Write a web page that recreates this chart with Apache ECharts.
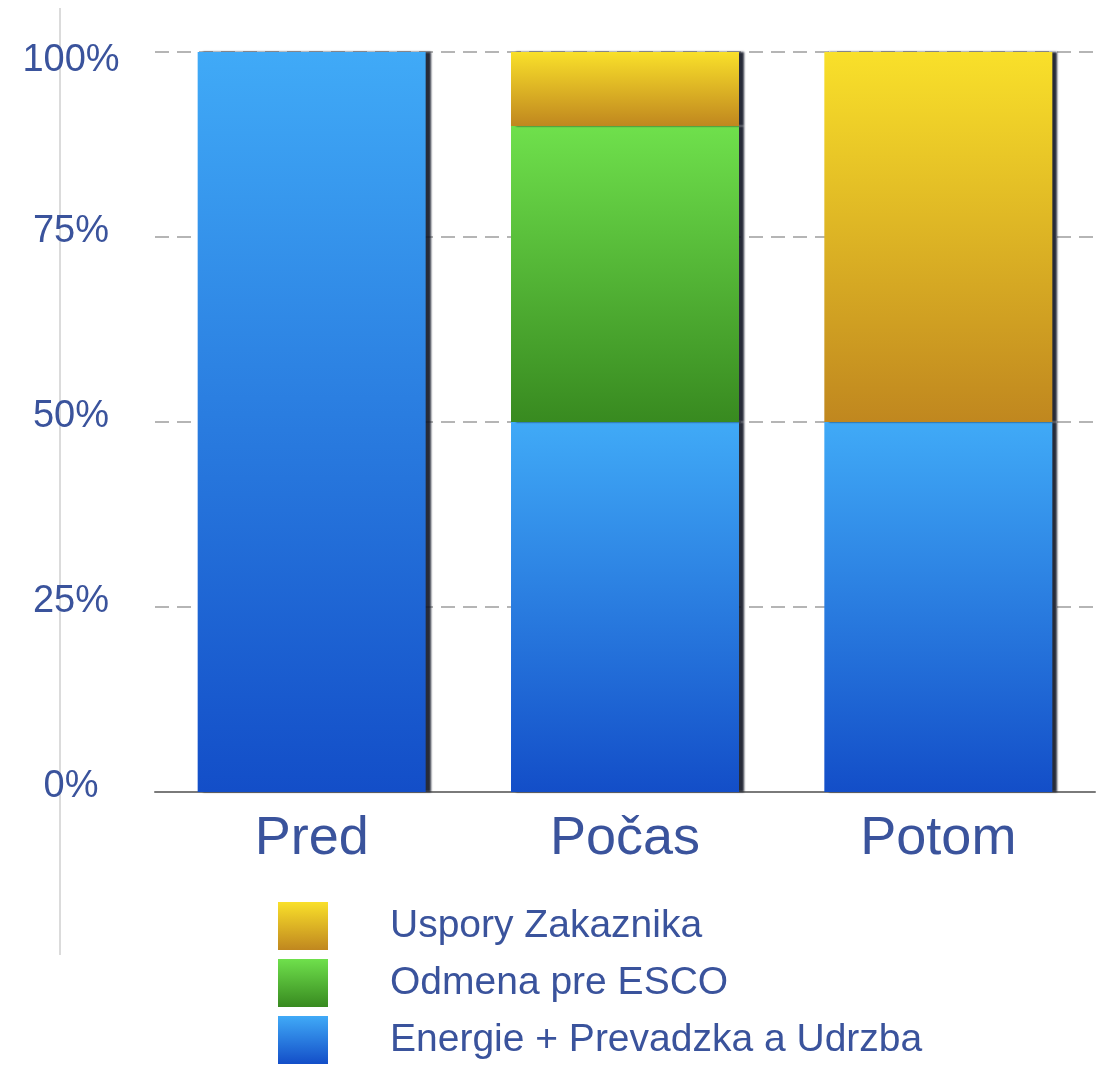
<!DOCTYPE html>
<html>
<head>
<meta charset="utf-8">
<script src="https://cdn.jsdelivr.net/npm/echarts@6/dist/echarts.min.js"></script>
<style>
  html, body { margin: 0; padding: 0; background: #fff; }
  #chart { width: 1111px; height: 1068px; }
</style>
</head>
<body>
<div id="chart"></div>
<script>
// kategorie a hodnoty (percentá)
const categories = ["Pred", "Počas", "Potom"];
const energie = [100, 50, 50];
const odmena = [0, 40, 0];
const uspory = [0, 10, 50];
const yTicks = [0, 25, 50, 75, 100];

const textBlue = "#3a539c";
const font = "Liberation Sans, Arial, sans-serif";

// vertikálny gradient pre segment
function grad(top, bottom) {
  return new echarts.graphic.LinearGradient(0, 0, 0, 1, [
    { offset: 0, color: top },
    { offset: 1, color: bottom },
  ]);
}

// nulové segmenty nekreslíme (inak by bol vidieť tieň)
function seg(arr) {
  return arr.map(function (v) {
    return v === 0 ? "-" : v;
  });
}

const barShadow = {
  shadowColor: "rgba(15,20,35,0.9)",
  shadowOffsetX: 5,
  shadowOffsetY: 0,
  shadowBlur: 2,
};

const labelStyle = { color: textBlue, fontSize: 38, fontFamily: font };

const chart = echarts.init(document.getElementById("chart"));

const option = {
  backgroundColor: "#ffffff",
  animation: false,
  grid: { left: 155, right: 16, top: 52, bottom: 276 },
  graphic: [
    {
      type: "line",
      shape: { x1: 60, y1: 8, x2: 60, y2: 955 },
      style: { stroke: "#cfcfcf", lineWidth: 1.5 },
      silent: true,
    },
  ],
  legend: {
    orient: "vertical",
    left: 278,
    top: 902,
    padding: 0,
    height: 166,
    itemWidth: 50,
    itemHeight: 48,
    itemGap: 9,
    icon: "rect",
    data: ["Uspory Zakaznika", "Odmena pre ESCO", "Energie + Prevadzka a Udrzba"],
    itemStyle: { shadowBlur: 0, shadowOffsetX: 0, shadowColor: "transparent" },
    textStyle: {
      color: textBlue,
      fontSize: 39,
      fontFamily: font,
      padding: [8, 0, 0, 57],
    },
  },
  xAxis: {
    type: "category",
    data: categories,
    axisTick: { show: false },
    axisLine: { show: true, lineStyle: { color: "#7a7a7a", width: 2 } },
    axisLabel: {
      color: textBlue,
      fontSize: 54,
      fontFamily: font,
      margin: 20,
    },
  },
  yAxis: {
    type: "value",
    min: yTicks[0],
    max: yTicks[yTicks.length - 1],
    interval: 25,
    axisLine: { show: false },
    axisTick: { show: false },
    axisLabel: {
      formatter: function (v) {
        return v === 100 ? "{top|" + v + "%}" : "{n|" + v + "%}";
      },
      align: "center",
      margin: 84,
      rich: {
        top: Object.assign({ padding: [18, 0, 0, 0], align: "center" }, labelStyle),
        n: Object.assign({ padding: [0, 0, 10, 0], align: "center" }, labelStyle),
      },
    },
    splitLine: {
      show: true,
      lineStyle: { color: "#b5b5b5", width: 2, type: [14, 8] },
    },
  },
  series: [
    {
      name: "Energie + Prevadzka a Udrzba",
      type: "bar",
      stack: "spolu",
      barWidth: 228,
      data: seg(energie),
      itemStyle: Object.assign({ color: grad("#40aaf7", "#134ec8") }, barShadow),
    },
    {
      name: "Odmena pre ESCO",
      type: "bar",
      stack: "spolu",
      barWidth: 228,
      data: seg(odmena),
      itemStyle: Object.assign({ color: grad("#6fe04c", "#388a20") }, barShadow),
    },
    {
      name: "Uspory Zakaznika",
      type: "bar",
      stack: "spolu",
      barWidth: 228,
      data: seg(uspory),
      itemStyle: Object.assign({ color: grad("#f9e02a", "#c0871f") }, barShadow),
    },
  ],
};

chart.setOption(option);
window.addEventListener("resize", function () {
  chart.resize();
});
</script>
</body>
</html>
